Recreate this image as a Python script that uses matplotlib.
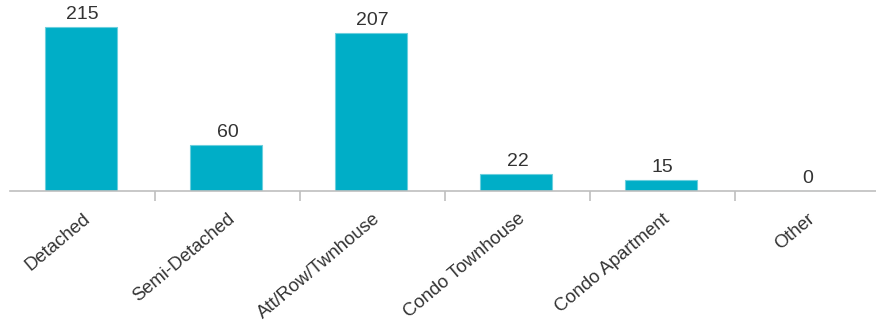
import matplotlib
matplotlib.use('Agg')
import matplotlib.pyplot as plt
import numpy as np

categories = ['Detached', 'Semi-Detached', 'Att/Row/Twnhouse', 'Condo Townhouse',
              'Condo Apartment', 'Other']
values = [215, 60, 207, 22, 15, 0]

plt.rcParams['font.family'] = ['Liberation Sans', 'DejaVu Sans']

fig = plt.figure(figsize=(8.76, 3.22), dpi=100)
ax = fig.add_axes([10 / 876, 131 / 322, 870 / 876, 191 / 322])

x = np.arange(len(categories))
ax.bar(x - 0.01, values, width=0.5, color='#00AEC7', edgecolor='#6CCFDD', linewidth=0.8, zorder=2)

for xi, v in zip(x, values):
    ax.text(xi, v + 5, str(v), ha='center', va='bottom', fontsize=14, color='#333333')

ax.set_xlim(-0.5, len(categories) - 0.5)
ax.set_ylim(0, 250)

for s in ['top', 'right', 'left']:
    ax.spines[s].set_visible(False)
ax.spines['bottom'].set_color('#BFBFBF')
ax.spines['bottom'].set_linewidth(1.2)
ax.spines['bottom'].set_zorder(3)
ax.set_yticks([])

ax.set_xticks(x)
ax.set_xticklabels(categories, rotation=40, ha='right', rotation_mode='anchor',
                   fontsize=13.3, color='#333333')
ax.tick_params(axis='x', which='major', length=0, pad=14)
ax.set_xticks(np.arange(0.5, len(categories) - 1, 1), minor=True)
ax.tick_params(axis='x', which='minor', length=7, width=1.2, color='#BFBFBF', direction='out')

fig.savefig('out.png', dpi=100)
